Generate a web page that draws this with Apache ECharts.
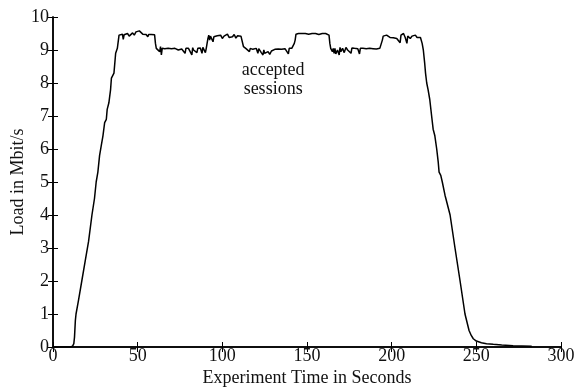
<!DOCTYPE html>
<html>
<head>
<meta charset="utf-8">
<script src="https://cdn.jsdelivr.net/npm/echarts@6/dist/echarts.min.js"></script>
<style>
  html, body { margin: 0; padding: 0; background: #fff; }
  #chart { width: 575px; height: 387px; }
</style>
</head>
<body>
<div id="chart"></div>
<script>
// time in seconds
const timeSec = [
  0, 10, 11.5, 12.3, 12.7, 13.2, 13.6, 15, 17, 19, 21, 23, 24.5, 25.5, 26.5, 27.5, 28.5, 29.5, 30.5, 31.5, 32, 33, 34, 34.5, 35.5, 36, 37, 38, 38.5, 39,
  40, 41, 41.5, 42, 43, 44, 45, 46, 47, 48, 49, 50, 51, 52, 53, 54, 55, 56, 56.5, 57, 58, 59, 60, 60.5, 61,
  62, 63, 63.5, 64, 64.5, 65, 66, 67, 68, 69, 70, 71, 72, 73, 74, 75, 76, 77, 78, 78.5, 79, 80, 81, 82, 82.5, 83, 84, 85, 85.5, 86, 87, 88, 88.5, 89, 90, 90.5, 91, 91.5, 92,
  92.5, 93, 94, 94.5, 95, 96, 97, 98, 99, 100, 101, 102, 103, 104, 105, 106, 107, 108, 109, 110, 111, 112, 112.5, 113,
  114, 115, 116, 116.5, 117, 118, 119, 120, 121, 121.5, 122, 123, 124, 124.5, 125, 126, 127, 128, 129, 130, 131, 132, 133, 134, 135, 136, 137, 138, 139, 139.5, 140, 141, 142, 142.5, 143, 143.5, 144,
  145, 146, 147, 148, 149, 150, 151, 152, 153, 154, 155, 156, 157, 158, 159, 160, 161, 162, 163, 163.5, 164,
  165, 165.5, 166, 166.5, 167, 168, 169, 169.5, 170, 171, 172, 173, 174, 175, 176, 176.5, 177, 178, 179, 180, 181, 181.5, 182, 183, 184, 185, 186, 187, 188, 189, 190, 191, 192, 193, 194, 194.5, 195,
  196, 197, 198, 199, 200, 201, 202, 203, 204, 205, 205.5, 206, 207, 208, 209, 209.5, 210, 211, 212, 213, 214, 215, 216, 217,
  218, 218.7, 219.5, 220, 220.7, 221.5, 222.5, 223.6, 224.5, 225.5, 226.6, 227.5, 228, 229, 229.9, 231.5, 232, 234.5, 237.4, 240.4, 243.3, 245.7, 247, 248.2, 250, 253, 256, 260, 265, 271.7, 277, 282.7
];
// load in Mbit/s
const loadMbit = [
  0, 0, 0.02, 0.1, 0.3, 0.8, 1.0, 1.4, 2.0, 2.6, 3.2, 4.0, 4.5, 5.0, 5.3, 5.8, 6.1, 6.4, 6.8, 6.9, 7.2, 7.4, 7.8, 8.15, 8.15, 8.3, 8.9, 9.05, 9.1, 9.45,
  9.45, 9.48, 9.32, 9.46, 9.44, 9.5, 9.42, 9.47, 9.52, 9.45, 9.55, 9.5, 9.58, 9.52, 9.48, 9.5, 9.47, 9.4, 9.47, 9.48, 9.47, 9.47, 9.46, 9.2, 9.05,
  9.04, 8.95, 9.1, 8.85, 9.05, 9.03, 9.04, 9.02, 9.05, 9.03, 9.04, 9.02, 9.05, 9.03, 9.0, 9.05, 9.03, 9.04, 8.9, 9.05, 9.02, 9.05, 9.03, 8.85, 9.07, 9.0, 9.05, 8.92, 9.05, 9.0, 9.06, 8.9, 9.08, 9.05, 8.92, 9.05, 9.05, 9.35, 9.45,
  9.3, 9.42, 9.38, 9.25, 9.4, 9.35, 9.43, 9.38, 9.45, 9.35, 9.42, 9.4, 9.48, 9.38, 9.44, 9.4, 9.47, 9.36, 9.43, 9.4, 9.42, 9.4, 9.1, 9.05,
  9.04, 9.05, 8.95, 9.05, 9.03, 9.02, 8.98, 9.05, 8.9, 9.04, 9.0, 8.92, 8.85, 9.0, 8.9, 8.88, 8.95, 8.87, 8.97, 9.0, 9.02, 9.0, 9.03, 9.01, 9.02, 9.0, 9.04, 9.01, 8.88, 9.05, 9.08, 9.05, 9.0, 9.2, 9.3, 9.48, 9.5,
  9.5, 9.48, 9.5, 9.49, 9.5, 9.5, 9.48, 9.51, 9.5, 9.49, 9.5, 9.5, 9.47, 9.5, 9.5, 9.49, 9.5, 9.48, 9.45, 9.2, 9.05,
  8.95, 9.05, 8.9, 9.05, 8.88, 9.0, 8.85, 9.08, 8.95, 9.05, 8.92, 9.08, 9.0, 9.05, 8.9, 9.06, 9.02, 9.05, 9.0, 9.04, 8.88, 9.05, 9.03, 9.05, 9.02, 9.04, 9.03, 9.05, 9.01, 9.04, 9.02, 9.03, 9.0, 9.05, 9.1, 9.3, 9.42,
  9.4, 9.45, 9.42, 9.38, 9.4, 9.37, 9.42, 9.35, 9.4, 9.22, 9.45, 9.4, 9.5, 9.38, 9.2, 9.42, 9.45, 9.35, 9.42, 9.4, 9.45, 9.38, 9.42, 9.38,
  9.2, 9.0, 8.6, 8.3, 8.0, 7.8, 7.5, 7.0, 6.6, 6.4, 6.0, 5.6, 5.3, 5.2, 5.0, 4.6, 4.5, 4.0, 3.0, 2.0, 1.0, 0.5, 0.35, 0.25, 0.18, 0.13, 0.1, 0.08, 0.06, 0.04, 0.03, 0.02
];
const xTicks = [0, 50, 100, 150, 200, 250, 300];
const yTicks = [0, 1, 2, 3, 4, 5, 6, 7, 8, 9, 10];
const noteText = ['accepted', 'sessions'];
const notePos = [130, 8.1];

const chart = echarts.init(document.getElementById('chart'));
const font = 'Liberation Serif';
const axisLine = { lineStyle: { color: '#000', width: 1.5 } };
const tick = { show: true, inside: true, length: 5, lineStyle: { color: '#000', width: 1 } };

chart.setOption({
  animation: false,
  grid: { left: 53, right: 14, top: 17, bottom: 40, outerBoundsMode: 'none', containLabel: false },
  xAxis: [
    {
      type: 'value', min: xTicks[0], max: xTicks[xTicks.length - 1], interval: 50,
      axisLine: axisLine, axisTick: tick, splitLine: { show: false },
      axisLabel: { color: '#111', fontFamily: font, fontSize: 18, margin: 0 },
      name: 'Experiment Time in Seconds', nameLocation: 'middle', nameGap: 22, nameMoveOverlap: false,
      nameTextStyle: { color: '#111', fontFamily: font, fontSize: 18 }
    },
    {
      type: 'value', position: 'top', min: 0, max: 300, interval: 50,
      axisLine: axisLine, axisTick: tick, axisLabel: { show: false }, splitLine: { show: false }
    }
  ],
  yAxis: [
    {
      type: 'value', min: yTicks[0], max: yTicks[yTicks.length - 1], interval: 1,
      axisLine: axisLine, axisTick: tick, splitLine: { show: false },
      axisLabel: { color: '#111', fontFamily: font, fontSize: 18, margin: 4 },
      name: 'Load in Mbit/s', nameLocation: 'middle', nameGap: 26, nameMoveOverlap: false,
      nameTextStyle: { color: '#111', fontFamily: font, fontSize: 18 }
    },
    {
      type: 'value', position: 'right', min: 0, max: 10, interval: 1,
      axisLine: axisLine, axisTick: tick, axisLabel: { show: false }, splitLine: { show: false }
    }
  ],
  series: [{
    type: 'line',
    data: timeSec.map((t, i) => [t, loadMbit[i]]),
    showSymbol: false,
    lineStyle: { color: '#000', width: 1.5 },
    markPoint: {
      symbol: 'circle', symbolSize: 0,
      data: [{ coord: notePos }],
      label: {
        show: true, formatter: noteText.join('\n'), position: 'inside',
        color: '#111', fontFamily: font, fontSize: 18, lineHeight: 19
      }
    }
  }]
});
</script>
</body>
</html>
